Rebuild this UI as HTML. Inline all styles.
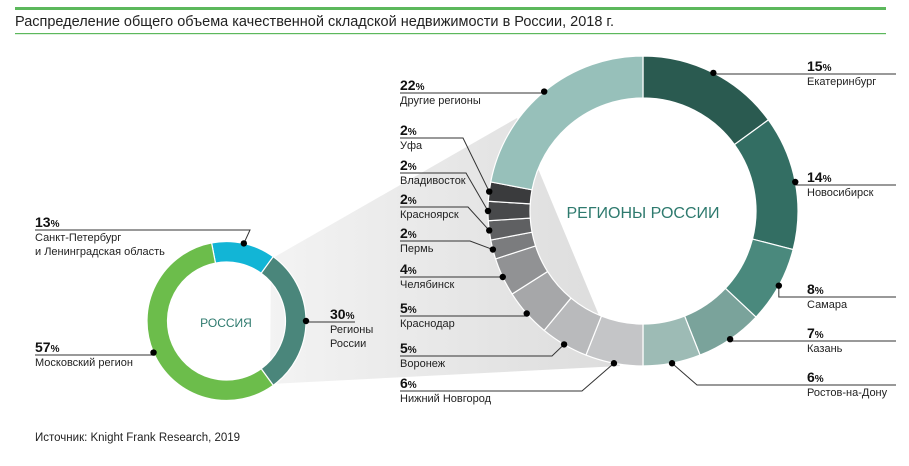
<!DOCTYPE html>
<html><head><meta charset="utf-8"><style>
body{margin:0;background:#fff;width:909px;height:461px;overflow:hidden;font-family:"Liberation Sans",sans-serif}
</style></head><body>
<svg width="909" height="461" viewBox="0 0 909 461" id="svg" style="font-family:'Liberation Sans',sans-serif">
<defs><linearGradient id="g" x1="0" x2="1" y1="0" y2="0"><stop offset="0" stop-color="#f3f3f3"/><stop offset="1" stop-color="#dcdcdc"/></linearGradient></defs>
<rect x="15" y="7" width="871" height="3" fill="#5cb85c"/>
<text x="15" y="26" font-size="14.5" fill="#222">Распределение общего объема качественной складской недвижимости в России, 2018 г.</text>
<rect x="15" y="33" width="871" height="1.2" fill="#5cb85c"/>
<polygon points="271,259 517,118 620,366 270,384" fill="url(#g)"/>
<g id="small"></g><g id="big"></g><g id="labels"></g>
<text x="226" y="327" font-size="12" fill="#2e7a6e" text-anchor="middle">РОССИЯ</text>
<text x="643" y="218" font-size="16" fill="#2e7a6e" text-anchor="middle">РЕГИОНЫ РОССИИ</text>
<text x="35" y="441" font-size="11.5" fill="#222">Источник: Knight Frank Research, 2019</text>
</svg>
<script>
const smallCats=["Санкт-Петербург и Ленинградская область","Регионы России","Московский регион"];
const smallVals=[13,30,57];
const smallColors=["#12b5d6","#4a867b","#6cbd4b"];
const bigCats=["Екатеринбург","Новосибирск","Самара","Казань","Ростов-на-Дону","Нижний Новгород","Воронеж","Краснодар","Челябинск","Пермь","Красноярск","Владивосток","Уфа","Другие регионы"];
const bigVals=[15,14,8,7,6,6,5,5,4,2,2,2,2,22];
const bigColors=["#2a5a50","#336e63","#4a897d","#7aa39b","#9dbbb5","#c4c5c7","#b9babc","#a6a7a9","#919294","#7b7c7e","#5f6062","#48494b","#3a3b3d","#97c0ba"];
const NS="http://www.w3.org/2000/svg";
function mk(t,a,p){const e=document.createElementNS(NS,t);for(const k in a)e.setAttribute(k,a[k]);p.appendChild(e);return e;}
function pt(cx,cy,r,deg){const a=(deg-90)*Math.PI/180;return [cx+r*Math.cos(a),cy+r*Math.sin(a)];}
function arc(cx,cy,R,r,a0,a1){const p1=pt(cx,cy,R,a0),p2=pt(cx,cy,R,a1),p3=pt(cx,cy,r,a1),p4=pt(cx,cy,r,a0);const l=(a1-a0)>180?1:0;
return `M${p1}A${R},${R} 0 ${l} 1 ${p2}L${p3}A${r},${r} 0 ${l} 0 ${p4}Z`;}
function donut(g,cx,cy,R,r,vals,cols,start,names){const tot=vals.reduce((a,b)=>a+b,0);let a=start;const mids=[];
vals.forEach((v,i)=>{const s=v/tot*360;const p=mk('path',{d:arc(cx,cy,R,r,a,a+s),fill:cols[i],stroke:'#fff','stroke-width':1.2},g);


mids.push(a+s/2);a+=s;});return mids;}
const sg=document.getElementById('small'),bg=document.getElementById('big'),lg=document.getElementById('labels');
const sMid=donut(sg,226.5,321,79.5,59,smallVals,smallColors,-10.8,["slice-spb","slice-regions","slice-moscow"]);
const bMid=donut(bg,643,211,155,113,bigVals,bigColors,0,bigCats.map((c,i)=>"slice-big-"+i));
// label layout: [textX, lineY, lineEndX, elbowX, anchor side]
const bigLay=[[807,74,896,null,'r'],[807,185,896,null,'r'],[807,297,896,null,'r'],[807,341,896,null,'r'],[807,385,896,697,'r'],
[400,391,400,582,'l'],[400,356,400,552,'l'],[400,316,400,null,'l'],[400,277,400,null,'l'],[400,241,400,470,'l'],[400,207,400,468,'l'],[400,173,400,466,'l'],[400,138,400,463,'l'],[400,93,400,null,'l']];
const smallLay=[[35,230,35,250,'l'],[330,322,355,null,'r'],[35,355,35,null,'l']];
function label(cx,cy,R,mid,lay,val,name,i,pref){const d=pt(cx,cy,R,mid);const [tx,ly,ex,elb,side]=lay;
const ex0=elb!=null?elb:d[0];
const pl=mk('polyline',{points:`${d[0]},${d[1]} ${ex0},${ly} ${side=='r'?ex:tx},${ly}`,fill:'none',stroke:'#333','stroke-width':1},lg);


const c=mk('circle',{cx:d[0],cy:d[1],r:3.2,fill:'#000'},lg);


const t=mk('text',{x:tx,y:ly-3,'font-size':14,'font-weight':'bold',fill:'#111'},lg);


t.textContent=val;const ts=mk('tspan',{'font-size':10},t);ts.textContent='%';
const parts=Array.isArray(name)?name:[name];
parts.forEach((n,k)=>{const nt=mk('text',{x:tx,y:ly+11+k*14,'font-size':11,fill:'#222'},lg);


nt.textContent=n;});}
bigVals.forEach((v,i)=>label(643,211,155,bMid[i],bigLay[i],v,bigCats[i],i,'big'));
const smallNames=[["Санкт-Петербург","и Ленинградская область"],["Регионы","России"],["Московский регион"]];
smallVals.forEach((v,i)=>label(226.5,321,79.5,sMid[i],smallLay[i],v,smallNames[i],i,'small'));
</script>
</body></html>
